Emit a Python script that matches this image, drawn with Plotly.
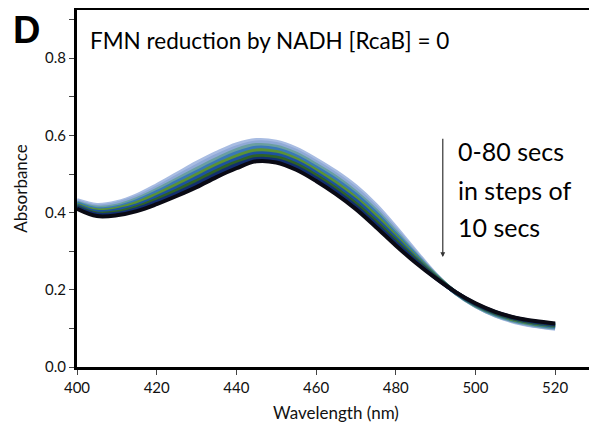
import plotly.graph_objects as go

wavelength = [400, 405, 410, 415, 420, 425, 430, 435, 440, 445, 450, 455, 460,
              465, 470, 475, 480, 485, 490, 495, 500, 505, 510, 515, 520]

time_labels = ["0 s", "10 s", "20 s", "30 s", "40 s", "50 s", "60 s", "70 s", "80 s"]

abs_0s  = [.432, .420, .427, .445, .471, .500, .529, .555, .577, .588, .584, .566, .538, .506, .468, .420, .362, .300, .240, .192, .158, .133, .116, .106, .099]
abs_10s = [.429, .416, .423, .440, .465, .493, .521, .547, .569, .582, .578, .560, .531, .499, .461, .413, .356, .296, .239, .192, .158, .134, .118, .107, .101]
abs_20s = [.426, .413, .418, .435, .459, .486, .513, .539, .562, .575, .571, .553, .524, .492, .453, .406, .350, .292, .238, .192, .159, .135, .119, .109, .102]
abs_30s = [.424, .409, .414, .430, .453, .479, .505, .531, .554, .568, .564, .546, .517, .485, .446, .399, .344, .289, .237, .193, .160, .137, .121, .111, .104]
abs_40s = [.421, .406, .410, .425, .447, .472, .498, .524, .546, .561, .557, .539, .510, .477, .438, .392, .339, .285, .236, .193, .161, .138, .122, .112, .106]
abs_50s = [.418, .402, .406, .419, .440, .464, .490, .516, .538, .553, .550, .532, .503, .469, .431, .384, .333, .281, .234, .193, .162, .139, .124, .114, .107]
abs_60s = [.415, .398, .401, .414, .434, .457, .482, .508, .530, .546, .543, .525, .496, .462, .423, .377, .327, .278, .233, .194, .163, .140, .125, .115, .109]
abs_70s = [.413, .395, .397, .409, .428, .450, .474, .500, .523, .539, .536, .518, .489, .455, .416, .370, .321, .274, .231, .194, .164, .142, .127, .117, .111]
abs_80s = [.410, .391, .393, .404, .422, .443, .466, .492, .515, .533, .530, .511, .482, .448, .409, .363, .315, .270, .230, .194, .165, .143, .128, .119, .113]

series = [abs_0s, abs_10s, abs_20s, abs_30s, abs_40s, abs_50s, abs_60s, abs_70s, abs_80s]
colors = ["#a8bce2", "#8fa9d6", "#6a9fa0", "#3a78b8", "#5a9236", "#1d52a0", "#2f6226", "#122f70", "#0a0a14"]

x_ticks = [400, 420, 440, 460, 480, 500, 520]
y_ticks = [0.0, 0.2, 0.4, 0.6, 0.8]
y_ticklabels = ["0.0", "0.2", "0.4", "0.6", "0.8"]
note_lines = ["0-80 secs", "in steps of", "10 secs"]

fig = go.Figure()
for name, vals, col in zip(time_labels, series, colors):
    fig.add_trace(go.Scatter(x=wavelength, y=vals, mode="lines", name=name,
                             line=dict(color=col, width=4, shape="spline")))

fig.update_layout(
    width=589, height=426,
    margin=dict(l=69, r=2, t=2, b=67),
    paper_bgcolor="white", plot_bgcolor="white",
    showlegend=False,
    font=dict(family="Lato, Open Sans, sans-serif", color="#111"),
)
fig.update_xaxes(range=[400, 530], tickvals=x_ticks, ticks="outside", ticklen=5,
                 tickcolor="#444", tickfont=dict(size=15), showgrid=False,
                 showline=True, linewidth=3, linecolor="black", mirror=True,
                 zeroline=False, automargin=False,
                 title=dict(text="Wavelength (nm)", font=dict(size=17), standoff=13))
fig.update_yaxes(range=[0, 0.925], tickvals=y_ticks, ticktext=y_ticklabels,
                 ticks="outside", ticklen=5, tickcolor="#444",
                 minor=dict(dtick=0.1, tick0=0, ticks="outside", ticklen=5, tickcolor="#444"),
                 tickfont=dict(size=15), showgrid=False, automargin=False,
                 showline=True, linewidth=3, linecolor="black", zeroline=False,
                 title=dict(text="Absorbance", font=dict(size=17), standoff=14))

fig.add_shape(type="line", xref="paper", yref="paper", x0=1, x1=1, y0=0, y1=1,
              line=dict(color="#999", width=1))

fig.add_annotation(text="<b>D</b>", xref="paper", yref="paper", x=-0.128, y=0.945,
                   xanchor="left", yanchor="middle", showarrow=False,
                   font=dict(family="Liberation Sans, Arial", size=38, color="black"))
fig.add_annotation(text="FMN reduction by NADH [RcaB] = 0", xref="paper", yref="paper",
                   x=0.022, y=0.915, xanchor="left", yanchor="middle", showarrow=False,
                   font=dict(size=22.5, color="black"))
for txt, yp in zip(note_lines, [0.606, 0.496, 0.392]):
    fig.add_annotation(text=txt, xref="paper", yref="paper",
                       x=0.731, y=yp, xanchor="left", yanchor="middle", align="left",
                       showarrow=False, font=dict(size=25, color="black"))
fig.add_annotation(x=491.8, y=0.285, ax=491.8, ay=0.595, xref="x", yref="y", axref="x", ayref="y",
                   showarrow=True, arrowhead=2, arrowsize=0.8, arrowwidth=1.2,
                   arrowcolor="#333", text="")

fig.write_html("out.html")
